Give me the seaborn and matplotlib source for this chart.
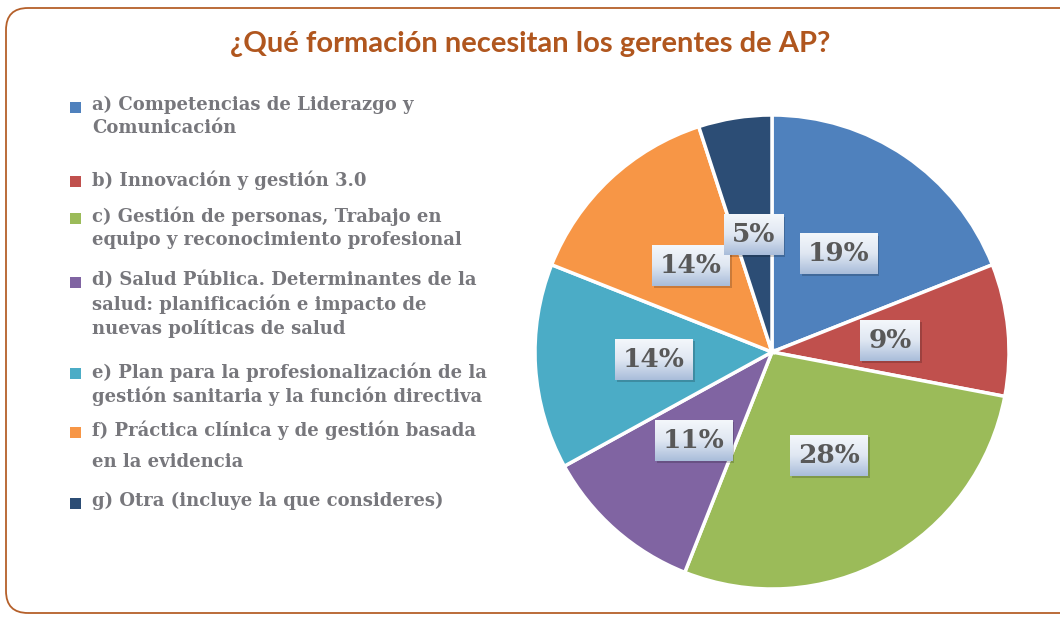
import matplotlib
matplotlib.use("Agg")
import matplotlib.pyplot as plt
import numpy as np
import seaborn as sns
from matplotlib.colors import LinearSegmentedColormap
from matplotlib.patches import FancyBboxPatch, Rectangle
from matplotlib.transforms import IdentityTransform

# data
categories = [
    "a) Competencias de Liderazgo y\nComunicación",
    "b) Innovación y gestión 3.0",
    "c) Gestión de personas, Trabajo en\nequipo y reconocimiento profesional",
    "d) Salud Pública. Determinantes de la\nsalud: planificación e impacto de\nnuevas políticas de salud",
    "e) Plan para la profesionalización de la\ngestión sanitaria y la función directiva",
    "f) Práctica clínica y de gestión basada\nen la evidencia",
    "g) Otra (incluye la que consideres)",
]
shares = [19, 9, 28, 11, 14, 14, 5]
colors = ["#4f81bd", "#c0504d", "#9bbb59", "#8064a2", "#4bacc6", "#f79646", "#2c4d75"]

title = "¿Qué formación necesitan los gerentes de AP?"

sns.set_style("white")
W, H = 1060, 617
fig = plt.figure(figsize=(W / 100, H / 100), dpi=100)

# rounded frame
frame = FancyBboxPatch((6, 4), 1080, 605, boxstyle="round,pad=0,rounding_size=22",
                       transform=IdentityTransform(), fill=False,
                       edgecolor="#b5602a", linewidth=1.3)
fig.patches.append(frame)

fig.text(530 / W, 1 - 44 / H, title, ha="center", va="center",
         fontsize=21, fontweight="bold", color="#b0561e",
         family=["Lato", "DejaVu Sans"])

# pie
cx, cy, r = 772, 352, 237
ax = fig.add_axes([(cx - r) / W, (H - cy - r) / H, 2 * r / W, 2 * r / H])
wedges, texts, autotexts = ax.pie(
    shares, colors=colors, startangle=90, counterclock=False,
    autopct="%d%%", pctdistance=0.5, radius=1,
    wedgeprops=dict(edgecolor="white", linewidth=2.5),
    textprops=dict(fontsize=19, fontweight="bold", color="#595959", family="DejaVu Serif"),
)
for t in autotexts:
    t.set_bbox(dict(boxstyle="square,pad=0.3", facecolor="none", edgecolor="none"))
    t.set_zorder(5)
ax.set_xlim(-1, 1)
ax.set_ylim(-1, 1)
ax.set_aspect("equal")
ax.axis("off")

# gradient label boxes with a soft shadow
fig.canvas.draw()
renderer = fig.canvas.get_renderer()
grad = LinearSegmentedColormap.from_list("lab", ["#a9bdda", "#dfe7f2", "#f4f7fb"])
inv = ax.transData.inverted()
for t in autotexts:
    ext = t.get_bbox_patch().get_window_extent(renderer)
    (x0, y0), (x1, y1) = inv.transform([(ext.x0, ext.y0), (ext.x1, ext.y1)])
    (sx0, sy0), (sx1, sy1) = inv.transform([(ext.x0 + 2, ext.y0 - 2), (ext.x1 + 2, ext.y1 - 2)])
    ax.add_patch(Rectangle((sx0, sy0), sx1 - sx0, sy1 - sy0, facecolor="black",
                           alpha=0.18, edgecolor="none", zorder=3))
    ax.imshow(np.linspace(0, 1, 64).reshape(-1, 1), cmap=grad, origin="lower",
              extent=(x0, x1, y0, y1), aspect="auto", zorder=4)
ax.set_xlim(-1, 1)
ax.set_ylim(-1, 1)

# legend (manual to keep the original wrapping)
legend_y = [107, 181, 218, 282, 373, 432, 503]
for lab, col, y in zip(categories, colors, legend_y):
    fig.patches.append(Rectangle((70, H - y - 6), 11, 11, transform=IdentityTransform(),
                                 facecolor=col, edgecolor="none"))
    ls = 1.9 if lab.startswith("f)") else 1.32
    fig.text(92 / W, 1 - (y - 11) / H, lab, ha="left", va="top", fontsize=13,
             fontweight="bold", color="#77777c", family="DejaVu Serif", linespacing=ls)

fig.savefig("out.png", dpi=100)
